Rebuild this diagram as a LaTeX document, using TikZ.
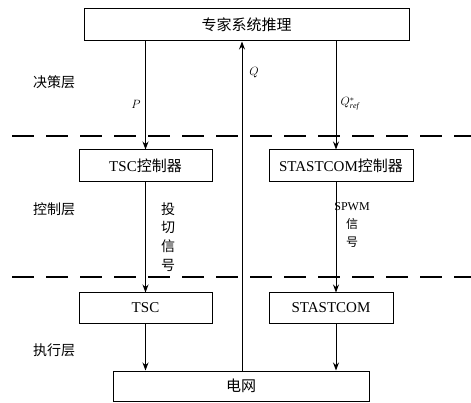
\documentclass[tikz,border=0pt]{standalone}
\usepackage{fontspec}
\setmainfont{Liberation Serif}
\newfontfamily\cjk{Noto Sans CJK SC}
\usetikzlibrary{arrows.meta}
\tikzset{
  box/.style={draw, line width=1pt, minimum height=32pt, inner sep=0pt, font=\fontsize{15}{18}\selectfont},
  arr/.style={line width=1pt, -{Stealth[length=8pt,width=6pt]}},
  conn/.style={line width=1pt},
  sep/.style={line width=1.3pt, dash pattern=on 22pt off 12pt},
  lab/.style={font=\cjk\fontsize{14}{17}\selectfont, inner sep=0pt},
  sym/.style={font=\fontsize{12}{14}\selectfont, inner sep=0pt}
}
\begin{document}
\begin{tikzpicture}[x=1pt,y=-1pt]
\useasboundingbox (0,0) rectangle (471,403);
\node[box, minimum width=325pt] (top) at (246.5,25) {\cjk 专家系统推理};
\node[box, minimum width=133pt] (tscc) at (145.5,166) {TSC{\cjk 控制器}};
\node[box, minimum width=144pt] (stc) at (341,166) {STASTCOM{\cjk 控制器}};
\node[box, minimum width=133pt, minimum height=30pt] (tsc) at (145.5,308) {TSC};
\node[box, minimum width=124pt, minimum height=30pt] (sta) at (331,308) {STASTCOM};
\node[box, minimum width=256pt, minimum height=30pt] (grid) at (241,386) {\cjk 电网};
\coordinate (xq) at (242,0);
\coordinate (xs) at (336,0);
\coordinate (l1a) at (12,136); \coordinate (l1b) at (471,136);
\coordinate (l2a) at (12,277); \coordinate (l2b) at (471,277);
\draw[sep] (l1a) -- (l1b);
\draw[sep] (l2a) -- (l2b);
\draw[arr] (top.south -| tscc.north) -- (tscc.north);
\draw[arr] (top.south -| xs) -- (stc.north -| xs);
\draw[arr] (grid.north -| xq) -- (top.south -| xq);
\draw[arr] (tscc.south) -- (tsc.north);
\draw[arr] (stc.south -| xs) -- (sta.north -| xs);
\draw[arr] (tsc.south) -- (grid.north -| tsc.south);
\draw[arr] (sta.south -| xs) -- (grid.north -| xs);
\node[lab] (l1) at (54,82) {决策层};
\node[lab] (l2) at (54,209) {控制层};
\node[lab] (l3) at (54,350) {执行层};
\node[sym] (p) at (136,104) {$P$};
\node[sym] (q) at (254,73) {$Q$};
\node[sym] (qr) at (350,104) {$Q^{*}_{\mathit{ref}}$};
\node[lab, align=center, font=\cjk\fontsize{14}{18.7}\selectfont] (sw) at (168,237) {投\\切\\信\\号};
\node[lab, align=center, font=\fontsize{12}{18}\selectfont] (spwm) at (352,225) {SPWM\\{\cjk 信}\\{\cjk 号}};
\end{tikzpicture}
\end{document}
